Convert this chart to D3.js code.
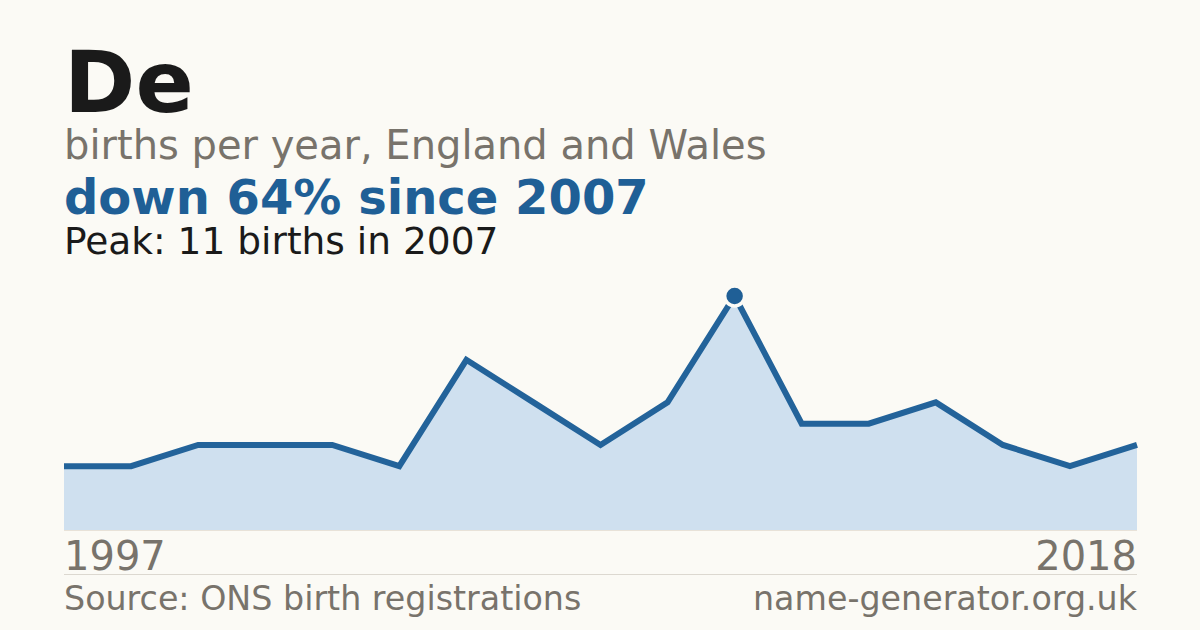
<!DOCTYPE html>
<html><head><meta charset="utf-8">
<script src="https://cdn.jsdelivr.net/npm/d3@7/dist/d3.min.js"></script>
<style>
html,body{margin:0;padding:0;background:#fbfaf5;}
svg{display:block;font-family:"DejaVu Sans",sans-serif;}
</style></head>
<body>
<svg id="c" width="1200" height="630"></svg>
<script>
const years = [1997,1998,1999,2000,2001,2002,2003,2004,2005,2006,2007,2009,2011,2013,2015,2017,2018];
const births = [3,3,4,4,4,3,8,6,4,6,11,5,5,6,4,3,4];
const titleText = "De";
const subtitleText = "births per year, England and Wales";
const changeText = "down 64% since 2007";
const peakText = "Peak: 11 births in 2007";
const sourceText = "Source: ONS birth registrations";
const siteText = "name-generator.org.uk";

(function(){
const svg = d3.select("#c");
const W = 1200, H = 630;
svg.append("rect").attr("width",W).attr("height",H).attr("fill","#fbfaf5");

const mLeft = 64, mRight = 1137, mBottom = 530, mTop = 296;
const x = d3.scalePoint().domain(d3.range(years.length)).range([mLeft,mRight]);
const y = d3.scaleLinear().domain([0, d3.max(births)]).range([mBottom, mTop]);

svg.append("text").attr("x",mLeft).attr("y",112).attr("font-size",86).attr("font-weight","bold").attr("fill","#1a1a1a").text(titleText);
svg.append("text").attr("x",mLeft).attr("y",159).attr("font-size",40).attr("fill","#78736b").text(subtitleText);
svg.append("text").attr("x",mLeft).attr("y",214).attr("font-size",48).attr("font-weight","bold").attr("fill","#1f5f96").text(changeText);
svg.append("text").attr("x",mLeft).attr("y",254).attr("font-size",37.5).attr("fill","#1a1a1a").text(peakText);

const area = d3.area().x((d,i)=>x(i)).y0(mBottom).y1(d=>y(d));
svg.append("path").datum(births).attr("d",area).attr("fill","#cfe0ef");
svg.append("line").attr("x1",mLeft).attr("x2",mRight).attr("y1",mBottom+0.5).attr("y2",mBottom+0.5).attr("stroke","#e8e2d8").attr("stroke-width",1);

const line = d3.line().x((d,i)=>x(i)).y(d=>y(d));
svg.append("path").datum(births).attr("d",line).attr("fill","none")
  .attr("stroke","#23639a").attr("stroke-width",6).attr("stroke-linejoin","miter");

const pi = births.indexOf(d3.max(births));
svg.append("circle").attr("cx",x(pi)).attr("cy",y(births[pi])).attr("r",10)
  .attr("fill","#1f5f96").attr("stroke","#fbfaf5").attr("stroke-width",3.5);

svg.append("text").attr("x",mLeft).attr("y",570).attr("font-size",40).attr("fill","#78736b").text(years[0]);
svg.append("text").attr("x",mRight).attr("y",570).attr("font-size",40).attr("fill","#78736b").attr("text-anchor","end").text(years[years.length-1]);
svg.append("line").attr("x1",mLeft).attr("x2",mRight).attr("y1",574.5).attr("y2",574.5).attr("stroke","#dcd8d0").attr("stroke-width",1);
svg.append("text").attr("x",mLeft).attr("y",610).attr("font-size",33.3).attr("fill","#78736b").text(sourceText);
svg.append("text").attr("x",mRight).attr("y",610).attr("font-size",33.3).attr("fill","#78736b").attr("text-anchor","end").text(siteText);
})();
</script>
</body></html>
